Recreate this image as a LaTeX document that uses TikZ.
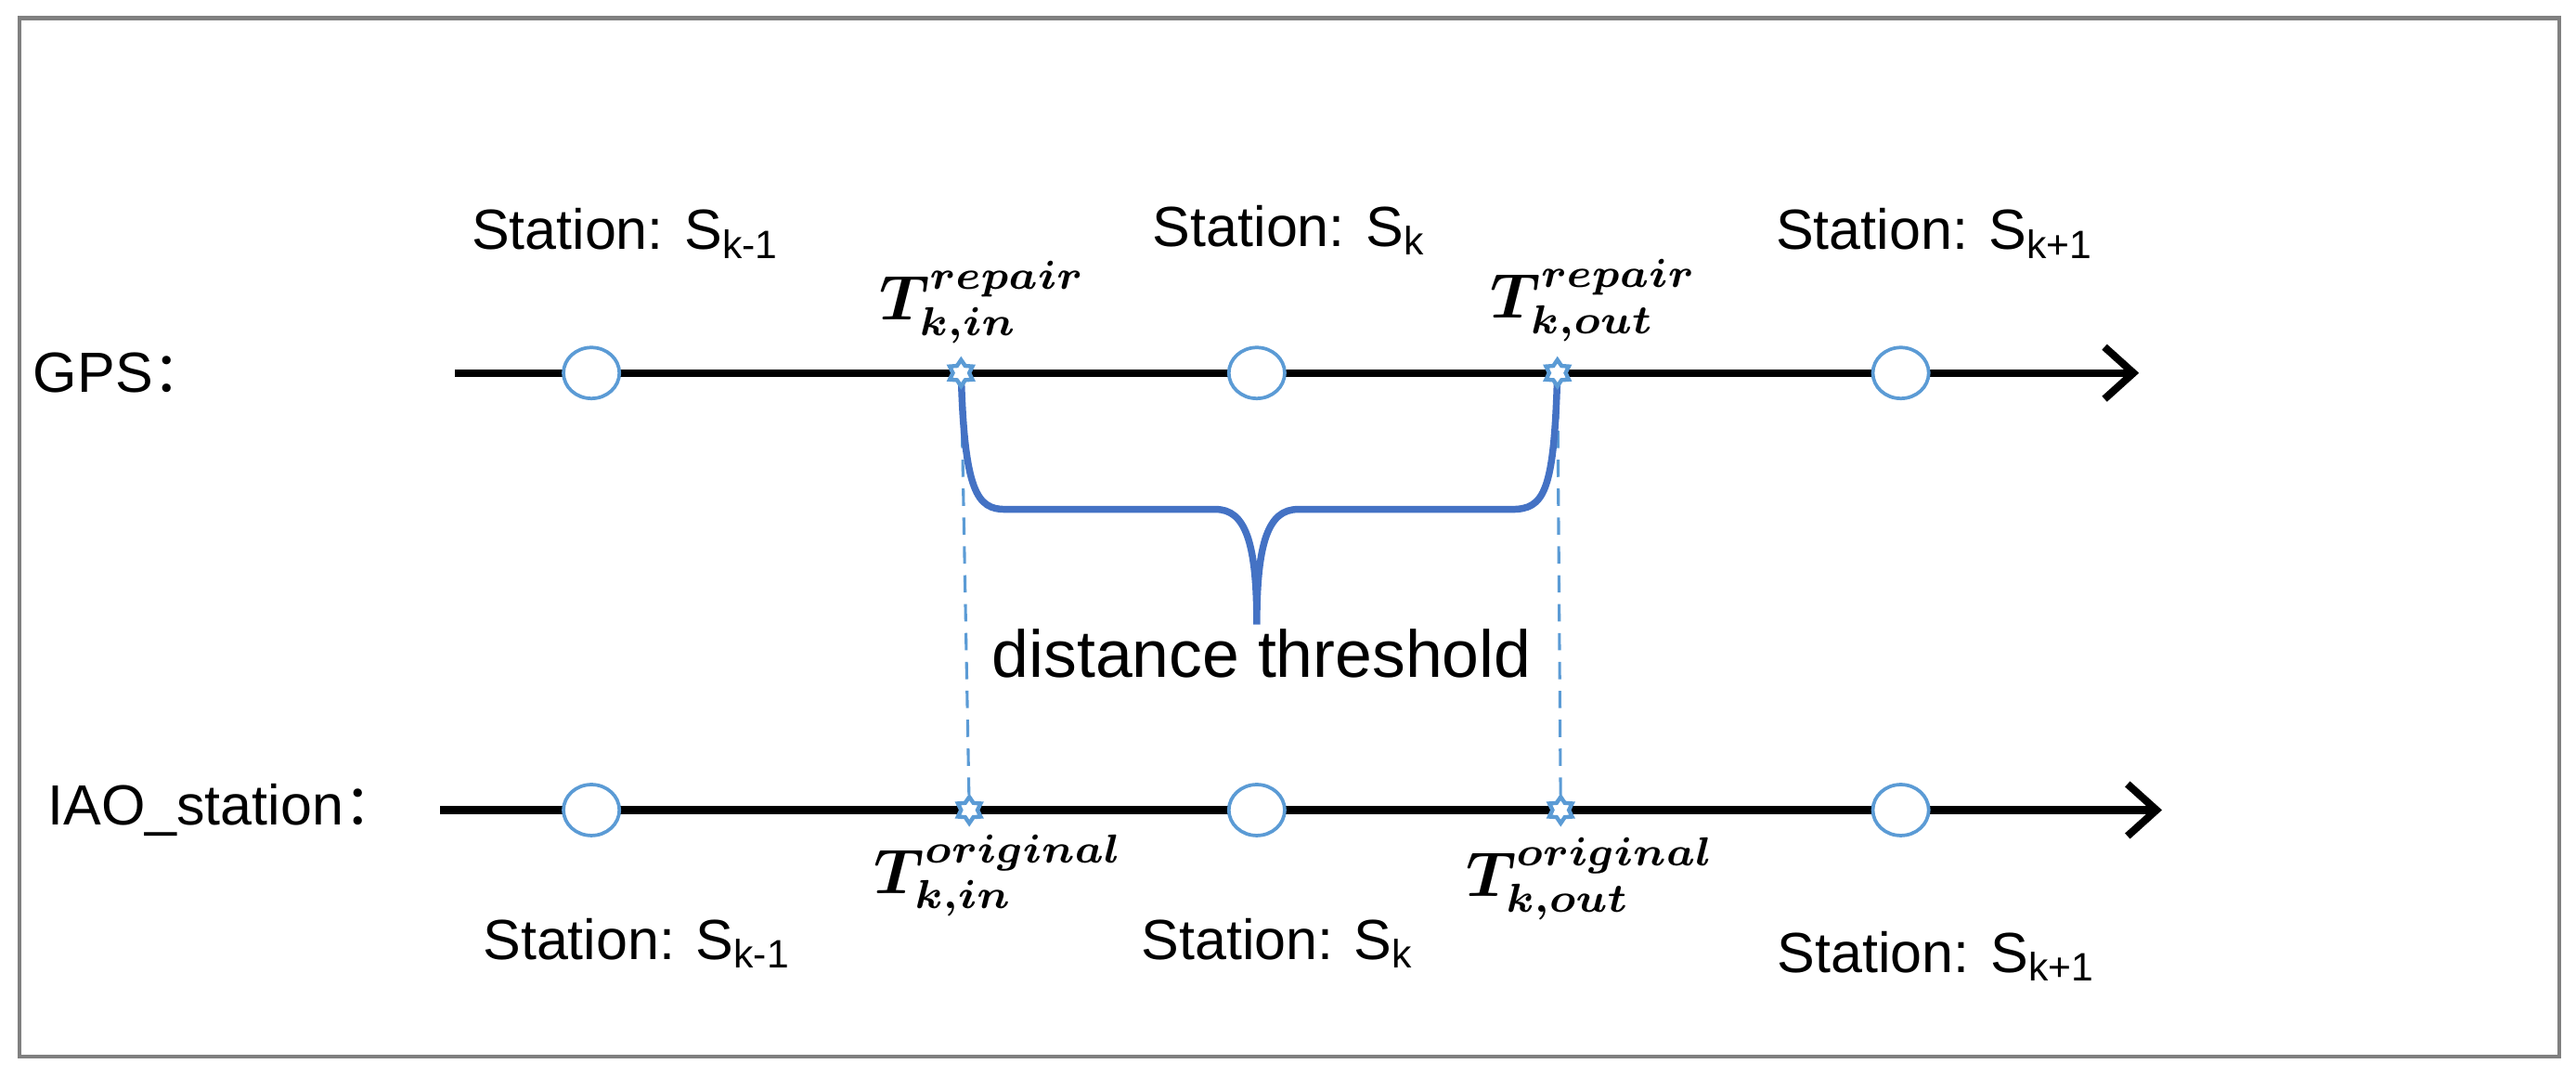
\documentclass[tikz,border=0pt]{standalone}
\usepackage{amsmath}
\usepackage{fontspec}
\setmainfont{Liberation Sans}
\newfontfamily\cjk{Noto Sans CJK SC}
\usetikzlibrary{shapes.geometric,arrows.meta}
\definecolor{lb}{HTML}{5B9BD5}
\definecolor{db}{HTML}{4472C4}
\begin{document}
\begin{tikzpicture}[x=0.01cm,y=-0.01cm,
  axis/.style={line width=1.3pt,-{Straight Barb[length=5pt,width=9pt,line width=1.3pt]}},
  st/.style={ellipse,draw=lb,fill=white,line width=0.6pt,inner sep=0,minimum width=0.34cm,minimum height=0.31cm},
  star6/.style={star,star points=6,star point ratio=1.6,draw=lb,fill=white,line width=0.7pt,inner sep=0,minimum size=0.16cm},
  lab/.style={font=\fontsize{9.8}{11}\selectfont},
  tl/.style={font=\fontsize{10.5}{11}\selectfont,inner sep=1pt},
  vd/.style={draw=lb,dashed,line width=0.5pt,dash pattern=on 3pt off 2pt}]
\useasboundingbox (0,0) rectangle (1568,655);
\draw[gray,line width=0.7pt] (12,11) rectangle (1558,643);
% axes
\coordinate (g0) at (277,227); \coordinate (g1) at (1302,227);
\coordinate (i0) at (268,493); \coordinate (i1) at (1316,493);
\draw[axis] (g0) -- (g1);
\draw[axis] (i0) -- (i1);
\node[lab,anchor=east] (gps) at (140,227) {GPS{\cjk ：}};
\node[lab,anchor=east] (iao) at (256,493) {IAO\_station{\cjk ：}};
% dashed verticals
\coordinate (a1) at (585,227); \coordinate (a2) at (948,227);
\coordinate (b1) at (590,493); \coordinate (b2) at (950,493);
\draw[vd] (a1) -- (b1);
\draw[vd] (a2) -- (b2);
% brace
\coordinate (tip) at (765,380);
\draw[db,line width=1.2pt] (a1) .. controls (587,300) and (595,310) .. (612,310)
  -- (740,310) .. controls (758,310) and (765,330) .. (tip)
  .. controls (765,330) and (772,310) .. (790,310)
  -- (920,310) .. controls (940,310) and (946,300) .. (a2);
\node[font=\fontsize{11.5}{13}\selectfont] (dt) at (768,398) {distance threshold};
% stations
\foreach \x/\n in {360/1,765/2,1157/3}{
  \node[st] (g\n s) at (\x,227) {};
  \node[st] (i\n s) at (\x,493) {};
}
\node[star6] (s1) at (a1) {};
\node[star6] (s2) at (a2) {};
\node[star6] (s3) at (b1) {};
\node[star6] (s4) at (b2) {};
% labels
\node[lab] (l1) at (381,142) {Station: S\textsubscript{k-1}};
\node[lab] (l2) at (785,140) {Station: S\textsubscript{k}};
\node[lab] (l3) at (1178,142) {Station: S\textsubscript{k+1}};
\node[lab] (l4) at (388,574) {Station: S\textsubscript{k-1}};
\node[lab] (l5) at (778,574) {Station: S\textsubscript{k}};
\node[lab] (l6) at (1179,582) {Station: S\textsubscript{k+1}};
\node[tl] (t1) at (598,184) {$\boldsymbol{T^{repair}_{k,in}}$};
\node[tl] (t2) at (970,183) {$\boldsymbol{T^{repair}_{k,out}}$};
\node[tl] (t3) at (608,533) {$\boldsymbol{T^{original}_{k,in}}$};
\node[tl] (t4) at (968,535) {$\boldsymbol{T^{original}_{k,out}}$};
\end{tikzpicture}
\end{document}
